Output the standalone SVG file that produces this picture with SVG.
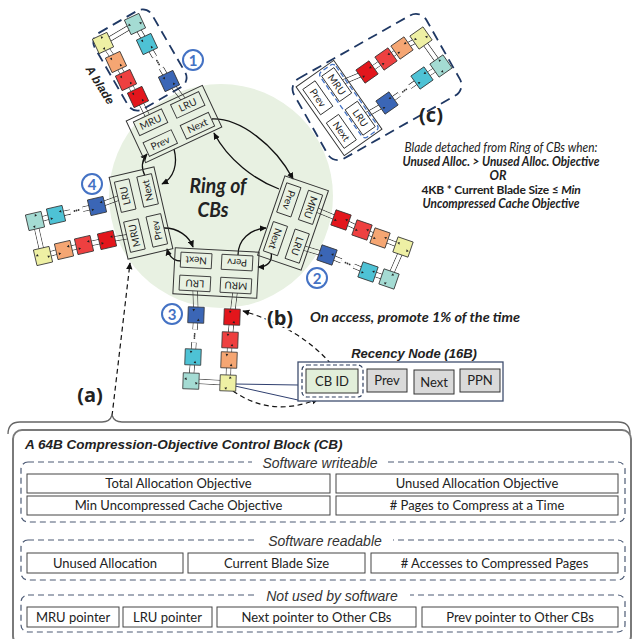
<svg xmlns="http://www.w3.org/2000/svg" width="635" height="639" viewBox="0 0 635 639">
<style>
.cbo{fill:none;stroke:#333;stroke-width:1}
.it{font-family:Lato,"Open Sans",sans-serif;font-size:10px;fill:#222;text-anchor:middle}
.n{stroke:#333;stroke-width:0.8}
.r1{fill:#e3161c}.r2{fill:#ee4040}.o{fill:#f5a673}.y{fill:#eef0a4}.t{fill:#a4dbd3}.c{fill:#4ec2d5}.b{fill:#3b66b6}
.arc{fill:none;stroke:#111;stroke-width:1.3;marker-end:url(#ah)}
.dsh{fill:none;stroke:#111;stroke-width:1.2;stroke-dasharray:5 3.5}
.num circle{fill:#fff;stroke:#4472c4;stroke-width:2}
.num text{font-family:Lato,"Open Sans",sans-serif;font-weight:700;font-size:15px;fill:#4472c4;text-anchor:middle}
.bx{fill:#fff;stroke:#444;stroke-width:1}
.bt{font-family:Lato,"Open Sans",sans-serif;font-size:13px;fill:#222;text-anchor:middle}
.sec{fill:none;stroke:#4d5b75;stroke-width:1.2;stroke-dasharray:6 4}
.sl{font-family:"Liberation Sans",Arial,sans-serif;font-style:italic;font-size:14px;fill:#333;text-anchor:middle}
.bi{font-family:Lato,"Open Sans",sans-serif;font-weight:700;font-style:italic;fill:#222}
.lab{font-family:"Open Sans",Lato,sans-serif;font-weight:700;font-size:20px;fill:#222;text-anchor:middle}
.dot{fill:#333}
</style>
<defs>
<marker id="ah" viewBox="0 0 10 10" refX="9" refY="5" markerWidth="7" markerHeight="7" markerUnits="userSpaceOnUse" orient="auto"><path d="M0,0.5 L10,5 L0,9.5z" fill="#111"/></marker>
<marker id="tp" viewBox="-8 -8 16 16" refX="0" refY="0" markerWidth="16" markerHeight="16" markerUnits="userSpaceOnUse" orient="auto"><path d="M-3.5,2.4 L-6,1.1 L-6,3.7Z M3.5,-2.4 L6,-3.7 L6,-1.1Z" fill="#222"/></marker>
<rect id="nd" x="-8" y="-8" width="16" height="16"/>
<g id="cbf">
<rect class="cbo" x="-42" y="-23" width="84" height="46"/>
<rect x="-36" y="-19" width="31" height="15"/>
<rect x="5" y="-19" width="31" height="15"/>
<rect x="-36" y="4" width="31" height="15"/>
<rect x="5" y="4" width="31" height="15"/>
</g>
<path id="L1" d="M150.6,122.2 L138,97 L126,80 L116,62 L103,43 L135,24 L147,44 L154.7,57 M161.3,68 L169,81 L187.7,104.9"/>
<path id="L2" d="M310.5,207.4 L341,220 L362,230 L380,238 L403,247 L389,279 L368,272 L353.7,266 M341.4,261 L327,255 L297.2,246.1"/>
<path id="L3" d="M235.9,285.6 L232,317 L230,340 L229,360 L228,383 L191,381 L193,357 L194,342.3 M195,329.7 L196,315 L194.9,283.4"/>
<path id="L4" d="M134.4,235.6 L107,240 L84,245 L64,250 L43,256 L35,221 L56,215 L70.4,211.9 M82.7,209.2 L97,206 L125.2,195.6"/>
<path id="L5" d="M336.7,84.6 L367,72 L386,59 L402,48 L421,38 L441,66 L422,78 L409.8,86.8 M399.3,94.3 L387,103 L360.2,118.2"/>
<mask id="lm" maskUnits="userSpaceOnUse" x="0" y="0" width="635" height="639">
<g fill="none" stroke-linejoin="round">
<g stroke="#fff" stroke-width="5.6"><use href="#L1"/><use href="#L2"/><use href="#L3"/><use href="#L4"/><use href="#L5"/></g>
<g stroke="#000" stroke-width="4"><use href="#L1"/><use href="#L2"/><use href="#L3"/><use href="#L4"/><use href="#L5"/></g>
</g>
</mask>
</defs>

<rect width="635" height="639" fill="#fff"/>
<circle cx="221" cy="196" r="112" fill="#e8f1e2"/>

<!-- blade frames -->
<g id="frame-blade1">
<rect transform="translate(140,60) rotate(-30)" x="-33" y="-44" width="66" height="88" rx="11" fill="none" stroke="#1f3864" stroke-width="1.8" stroke-dasharray="10 6"/>
</g>
<g id="frame-c">
<rect transform="translate(377,87) rotate(-29.5)" x="-76" y="-46" width="152" height="92" rx="12" fill="none" stroke="#1f3864" stroke-width="1.8" stroke-dasharray="10 6"/>
</g>

<g id="connectors">
<g mask="url(#lm)" fill="none" stroke="#333" stroke-width="5.6" stroke-linejoin="round"><use href="#L1"/><use href="#L2"/><use href="#L3"/><use href="#L4"/><use href="#L5"/></g>
<path class="arc" d="M212,119 C240,118 275,145 293,179"/>
<path class="arc" d="M279,189 C255,180 228,160 214,133"/>
<path class="arc" d="M174,149 C178,164 174,178 162,184"/>
<path class="arc" d="M145,176 C141,168 142,160 147,154"/>
<path class="arc" d="M164,228 C178,228 189,236 193,247"/>
<path class="arc" d="M181,261 C174,261 169,256 167,249"/>
<path class="arc" d="M238,255 C238,240 250,229 266,228"/>
<path class="arc" d="M271,252 C273,262 267,267 258,267"/>
<path class="dsh" d="M112,416 L130,263" marker-end="url(#ah)"/>
<path class="dsh" d="M331,364 Q300,328 243,311" marker-end="url(#ah)"/>
<path class="dsh" d="M233,391 Q272,418 318,399" marker-end="url(#ah)"/>
<line x1="235" y1="384" x2="298" y2="385" stroke="#2f3f6f" stroke-width="1"/>
<line x1="235" y1="386" x2="298" y2="400" stroke="#2f3f6f" stroke-width="1"/>
</g>

<!-- Control blocks -->
<g id="cb1" transform="translate(174,124) rotate(-25)">
<use href="#cbf" fill="#e8f1e2" stroke="#333" stroke-width="0.9"/>
<text class="it" x="-20.5" y="-8">MRU</text><text class="it" x="20.5" y="-8">LRU</text><text class="it" x="-20.5" y="15">Prev</text><text class="it" x="20.5" y="15">Next</text>
</g>
<g id="cb2" transform="translate(293,223) rotate(109)">
<use href="#cbf" fill="#e8f1e2" stroke="#333" stroke-width="0.9"/>
<text class="it" x="-20.5" y="-8">MRU</text><text class="it" x="20.5" y="-8">LRU</text><text class="it" x="-20.5" y="15">Prev</text><text class="it" x="20.5" y="15">Next</text>
</g>
<g id="cb3" transform="translate(216,273) rotate(183)">
<use href="#cbf" fill="#e8f1e2" stroke="#333" stroke-width="0.9"/>
<text class="it" x="-20.5" y="-8">MRU</text><text class="it" x="20.5" y="-8">LRU</text><text class="it" x="-20.5" y="15">Perv</text><text class="it" x="20.5" y="15">Next</text>
</g>
<g id="cb4" transform="translate(141,213) rotate(-103)">
<use href="#cbf" fill="#e8f1e2" stroke="#333" stroke-width="0.9"/>
<text class="it" x="-20.5" y="-8">MRU</text><text class="it" x="20.5" y="-8">LRU</text><text class="it" x="-20.5" y="15">Prev</text><text class="it" x="20.5" y="15">Next</text>
</g>
<g id="cb-c" transform="translate(339,108) rotate(55)">
<use href="#cbf" fill="#fff" stroke="#333" stroke-width="0.9"/>
<rect x="-40" y="-21.5" width="80" height="19" rx="4" fill="none" stroke="#4472c4" stroke-width="1.3" stroke-dasharray="5 3"/>
<text class="it" x="-20.5" y="-8">MRU</text><text class="it" x="20.5" y="-8">LRU</text><text class="it" x="-20.5" y="15">Prev</text><text class="it" x="20.5" y="15">Next</text>
</g>

<!-- blades -->
<g id="blade1">
<use href="#nd" class="n r1" transform="translate(138,97) rotate(-25)"/>
<use href="#nd" class="n r2" transform="translate(126,80) rotate(-25)"/>
<use href="#nd" class="n o" transform="translate(116,62) rotate(-25)"/>
<use href="#nd" class="n y" transform="translate(103,43) rotate(-25)"/>
<use href="#nd" class="n t" transform="translate(135,24) rotate(-25)"/>
<use href="#nd" class="n c" transform="translate(147,44) rotate(-25)"/>
<use href="#nd" class="n b" transform="translate(169,81) rotate(-25)"/>
<circle class="dot" cx="156.9" cy="60.7" r="0.9"/><circle class="dot" cx="158" cy="62.5" r="0.9"/><circle class="dot" cx="159.1" cy="64.4" r="0.9"/>
</g>
<g id="blade2">
<use href="#nd" class="n r1" transform="translate(341,220) rotate(19)"/>
<use href="#nd" class="n r2" transform="translate(362,230) rotate(19)"/>
<use href="#nd" class="n o" transform="translate(380,238) rotate(19)"/>
<use href="#nd" class="n y" transform="translate(403,247) rotate(19)"/>
<use href="#nd" class="n t" transform="translate(389,279) rotate(19)"/>
<use href="#nd" class="n c" transform="translate(368,272) rotate(19)"/>
<use href="#nd" class="n b" transform="translate(327,255) rotate(19)"/>
<circle class="dot" cx="349.6" cy="264.4" r="0.9"/><circle class="dot" cx="347.5" cy="263.5" r="0.9"/><circle class="dot" cx="345.5" cy="262.7" r="0.9"/>
</g>
<g id="blade3">
<use href="#nd" class="n r1" transform="translate(232,317) rotate(2)"/>
<use href="#nd" class="n r2" transform="translate(230,340) rotate(2)"/>
<use href="#nd" class="n o" transform="translate(229,360) rotate(2)"/>
<use href="#nd" class="n y" transform="translate(228,383) rotate(2)"/>
<use href="#nd" class="n t" transform="translate(191,381) rotate(2)"/>
<use href="#nd" class="n c" transform="translate(193,357) rotate(2)"/>
<use href="#nd" class="n b" transform="translate(196,315) rotate(2)"/>
<circle class="dot" cx="194.4" cy="338.1" r="0.9"/><circle class="dot" cx="194.5" cy="336" r="0.9"/><circle class="dot" cx="194.7" cy="333.9" r="0.9"/>
</g>
<g id="blade4">
<use href="#nd" class="n r1" transform="translate(107,240) rotate(-13)"/>
<use href="#nd" class="n r2" transform="translate(84,245) rotate(-13)"/>
<use href="#nd" class="n o" transform="translate(64,250) rotate(-13)"/>
<use href="#nd" class="n y" transform="translate(43,256) rotate(-13)"/>
<use href="#nd" class="n t" transform="translate(35,221) rotate(-13)"/>
<use href="#nd" class="n c" transform="translate(56,215) rotate(-13)"/>
<use href="#nd" class="n b" transform="translate(97,206) rotate(-13)"/>
<circle class="dot" cx="74.5" cy="211" r="0.9"/><circle class="dot" cx="76.5" cy="210.5" r="0.9"/><circle class="dot" cx="78.6" cy="210" r="0.9"/>
</g>
<g id="blade-c">
<use href="#nd" class="n r1" transform="translate(367,72) rotate(-35)"/>
<use href="#nd" class="n r2" transform="translate(386,59) rotate(-35)"/>
<use href="#nd" class="n o" transform="translate(402,48) rotate(-35)"/>
<use href="#nd" class="n y" transform="translate(421,38) rotate(-35)"/>
<use href="#nd" class="n t" transform="translate(441,66) rotate(-35)"/>
<use href="#nd" class="n c" transform="translate(422,78) rotate(-35)"/>
<use href="#nd" class="n b" transform="translate(387,103) rotate(-35)"/>
<circle class="dot" cx="406.3" cy="89.3" r="0.9"/><circle class="dot" cx="404.5" cy="90.5" r="0.9"/><circle class="dot" cx="402.8" cy="91.8" r="0.9"/>
</g>

<!-- arrow tips on blade links -->
<g fill="none" stroke="none" marker-mid="url(#tp)">
<path d="M150.6,122.2 L138,97 L126,80 L116,62 L103,43 L135,24 L147,44 L169,81 L187.7,104.9"/>
<path d="M310.5,207.4 L341,220 L362,230 L380,238 L403,247 L389,279 L368,272 L327,255 L297.2,246.1"/>
<path d="M235.9,285.6 L232,317 L230,340 L229,360 L228,383 L191,381 L193,357 L196,315 L194.9,283.4"/>
<path d="M134.4,235.6 L107,240 L84,245 L64,250 L43,256 L35,221 L56,215 L97,206 L125.2,195.6"/>
<path d="M336.7,84.6 L367,72 L386,59 L402,48 L421,38 L441,66 L422,78 L387,103 L360.2,118.2"/>
</g>

<!-- numbers -->
<g class="num" id="num1"><circle cx="193" cy="60" r="10"/><text x="193" y="65.5">1</text></g>
<g class="num" id="num2"><circle cx="317" cy="278" r="10"/><text x="317" y="283.5">2</text></g>
<g class="num" id="num3"><circle cx="172" cy="314" r="10"/><text x="172" y="319.5">3</text></g>
<g class="num" id="num4"><circle cx="92" cy="184" r="10"/><text x="92" y="189.5">4</text></g>

<!-- labels -->
<text class="bi" font-size="21" x="218" y="193" text-anchor="middle" textLength="57" lengthAdjust="spacingAndGlyphs">Ring of</text>
<text class="bi" font-size="21" x="213" y="217" text-anchor="middle" textLength="31" lengthAdjust="spacingAndGlyphs">CBs</text>
<text transform="translate(100,85) rotate(58)" y="4" text-anchor="middle" font-family="Liberation Sans, Arial, sans-serif" font-weight="700" font-style="italic" font-size="12" fill="#222" stroke="#fff" stroke-width="4" paint-order="stroke">A blade</text>
<text class="lab" x="431" y="122">(c)</text>
<text class="lab" x="280" y="325" stroke="#fff" stroke-width="4" paint-order="stroke">(b)</text>
<text class="lab" x="90" y="402">(a)</text>

<g id="detach-text" font-family="Lato, 'Open Sans', sans-serif" font-size="12.5" fill="#222">
<text x="501" y="152" text-anchor="middle" font-style="italic" textLength="193" lengthAdjust="spacingAndGlyphs">Blade detached from Ring of CBs when:</text>
<text x="501" y="166" text-anchor="middle" font-style="italic" font-weight="700" textLength="197" lengthAdjust="spacingAndGlyphs">Unused Alloc. &gt; Unused Alloc. Objective</text>
<text x="498" y="180" text-anchor="middle" font-style="italic" font-weight="700">OR</text>
<text x="501" y="194" text-anchor="middle" font-weight="700" font-size="12" letter-spacing="-0.2">4KB * Current Blade Size ≤ <tspan font-style="italic">Min</tspan></text>
<text x="501" y="208" text-anchor="middle" font-style="italic" font-weight="700" textLength="157" lengthAdjust="spacingAndGlyphs">Uncompressed Cache Objective</text>
</g>
<text class="bi" font-size="13" x="310" y="322" textLength="210" lengthAdjust="spacingAndGlyphs">On access, promote 1% of the time</text>

<g id="recency-node">
<text x="414" y="358" text-anchor="middle" font-family="Liberation Sans, Arial, sans-serif" font-weight="700" font-style="italic" font-size="13" fill="#222">Recency Node (16B)</text>
<rect x="298" y="362" width="205" height="39" fill="#fff" stroke="#3f4f6f" stroke-width="1.3"/>
<rect x="302" y="365" width="61" height="32" rx="5" fill="none" stroke="#2f3f5f" stroke-width="1.2" stroke-dasharray="4 2.5"/>
<rect x="306" y="369" width="52" height="24" fill="#e2efda" stroke="#333"/>
<text class="bt" x="332" y="386">CB ID</text>
<rect x="367" y="369" width="40" height="23" fill="#dadada" stroke="#333"/>
<text class="bt" x="387" y="385">Prev</text>
<rect x="414" y="370" width="40" height="24" fill="#dadada" stroke="#333"/>
<text class="bt" x="434" y="387">Next</text>
<rect x="460" y="369" width="40" height="23" fill="#dadada" stroke="#333"/>
<text class="bt" x="480" y="385">PPN</text>
</g>

<!-- Control block panel -->
<path d="M8,434 Q8,422 20,422 L102,422 Q110,422 112,415 Q114,422 122,422 L618,422 Q630,422 630,434" fill="none" stroke="#666" stroke-width="1.3"/>
<g id="cb-panel">
<rect x="13" y="430" width="618" height="215" rx="9" fill="#fff" stroke="#7a7a7a" stroke-width="2"/>
<text x="25" y="449" font-family="Liberation Sans, Arial, sans-serif" font-weight="700" font-style="italic" font-size="13.5" fill="#222">A 64B Compression-Objective Control Block (CB)</text>

<rect class="sec" x="21" y="462" width="604" height="60" rx="7"/>
<rect x="252" y="458" width="136" height="8" fill="#fff"/>
<text class="sl" x="320" y="468">Software writeable</text>
<rect class="bx" x="27" y="474" width="303" height="19"/><text class="bt" x="178.5" y="488">Total Allocation Objective</text>
<rect class="bx" x="336" y="474" width="282" height="19"/><text class="bt" x="477" y="488">Unused Allocation Objective</text>
<rect class="bx" x="27" y="496" width="303" height="19"/><text class="bt" x="178.5" y="510">Min Uncompressed Cache Objective</text>
<rect class="bx" x="336" y="496" width="282" height="19"/><text class="bt" x="477" y="510"># Pages to Compress at a Time</text>

<rect class="sec" x="21" y="540" width="604" height="40" rx="7"/>
<rect x="256" y="536" width="137" height="8" fill="#fff"/>
<text class="sl" x="325" y="546">Software readable</text>
<rect class="bx" x="27" y="553" width="156" height="20"/><text class="bt" x="105" y="568">Unused Allocation</text>
<rect class="bx" x="188" y="553" width="177" height="20"/><text class="bt" x="276.5" y="568">Current Blade Size</text>
<rect class="bx" x="371" y="553" width="247" height="20"/><text class="bt" x="494.5" y="568"># Accesses to Compressed Pages</text>

<rect class="sec" x="21" y="595" width="604" height="37" rx="7"/>
<rect x="254" y="591" width="156" height="8" fill="#fff"/>
<text class="sl" x="332" y="601">Not used by software</text>
<rect class="bx" x="27" y="607" width="92" height="20"/><text class="bt" x="73" y="622">MRU pointer</text>
<rect class="bx" x="123" y="607" width="89" height="20"/><text class="bt" x="167.5" y="622">LRU pointer</text>
<rect class="bx" x="217" y="607" width="199" height="20"/><text class="bt" x="316.5" y="622">Next pointer to Other CBs</text>
<rect class="bx" x="422" y="607" width="196" height="20"/><text class="bt" x="520" y="622">Prev pointer to Other CBs</text>
</g>
</svg>
